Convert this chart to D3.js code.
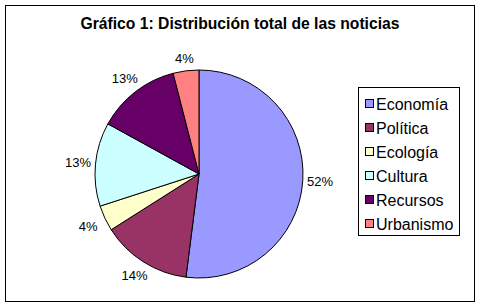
<!DOCTYPE html>
<html>
<head>
<meta charset="utf-8">
<script src="https://cdn.jsdelivr.net/npm/d3@7"></script>
<style>
  body { margin: 0; background: #fff; }
  svg { display: block; font-family: Arial, "Liberation Sans", sans-serif; }
</style>
</head>
<body>
<svg id="chart" width="481" height="307"></svg>
<script>
// Data
const categories = ["Economía", "Política", "Ecología", "Cultura", "Recursos", "Urbanismo"];
const values = [52, 14, 4, 13, 13, 4];
const colors = ["#9999FF", "#993366", "#FFFFCC", "#CCFFFF", "#660066", "#FF8080"];
const title = "Gráfico 1: Distribución total de las noticias";

const svg = d3.select("#chart");

// Outer frame
svg.append("rect")
  .attr("x", 5.5).attr("y", 5.5)
  .attr("width", 469).attr("height", 296)
  .attr("fill", "#fff")
  .attr("stroke", "#000")
  .attr("stroke-width", 1);

// Title
svg.append("text")
  .attr("x", 240).attr("y", 29)
  .attr("text-anchor", "middle")
  .style("font-size", "15.7px")
  .style("font-weight", "bold")
  .text(title);

// Pie
const cx = 199, cy = 174, r = 104;
const data = categories.map((c, i) => ({ name: c, value: values[i], color: colors[i] }));

const pie = d3.pie().sort(null).value(d => d.value);
const arc = d3.arc().innerRadius(0).outerRadius(r);
const arcs = pie(data);

const g = svg.append("g").attr("transform", "translate(" + cx + "," + cy + ")");

g.selectAll("path")
  .data(arcs)
  .enter()
  .append("path")
  .attr("d", arc)
  .attr("fill", d => d.data.color)
  .attr("stroke", "#000")
  .attr("stroke-width", 1);

// Percentage labels, pushed outside the pie so the text box clears the edge
const total = d3.sum(values);
g.selectAll(".lbl")
  .data(arcs)
  .enter()
  .append("text")
  .attr("class", "lbl")
  .attr("text-anchor", "middle")
  .attr("dy", "0.35em")
  .style("font-size", "13px")
  .attr("transform", d => {
    const a = (d.startAngle + d.endAngle) / 2;
    const dx = Math.sin(a), dy = -Math.cos(a);
    const dist = r + 5 + Math.abs(dx) * 12 + Math.abs(dy) * 6;
    return "translate(" + dx * dist + "," + dy * dist + ")";
  })
  .text(d => Math.round(d.data.value / total * 100) + "%");

// Legend
const legend = svg.append("g").attr("transform", "translate(358,87)");
legend.append("rect")
  .attr("x", 0.5).attr("y", 0.5)
  .attr("width", 101).attr("height", 148)
  .attr("fill", "#fff")
  .attr("stroke", "#000");

const item = legend.selectAll(".item")
  .data(data)
  .enter()
  .append("g")
  .attr("class", "item")
  .attr("transform", (d, i) => "translate(0," + (17 + i * 24) + ")");

item.append("rect")
  .attr("x", 7.5).attr("y", -4.5)
  .attr("width", 8).attr("height", 8)
  .attr("fill", d => d.color)
  .attr("stroke", "#000");

item.append("text")
  .attr("x", 18).attr("y", 0)
  .attr("dy", "0.35em")
  .style("font-size", "16px")
  .text(d => d.name);
</script>
</body>
</html>
